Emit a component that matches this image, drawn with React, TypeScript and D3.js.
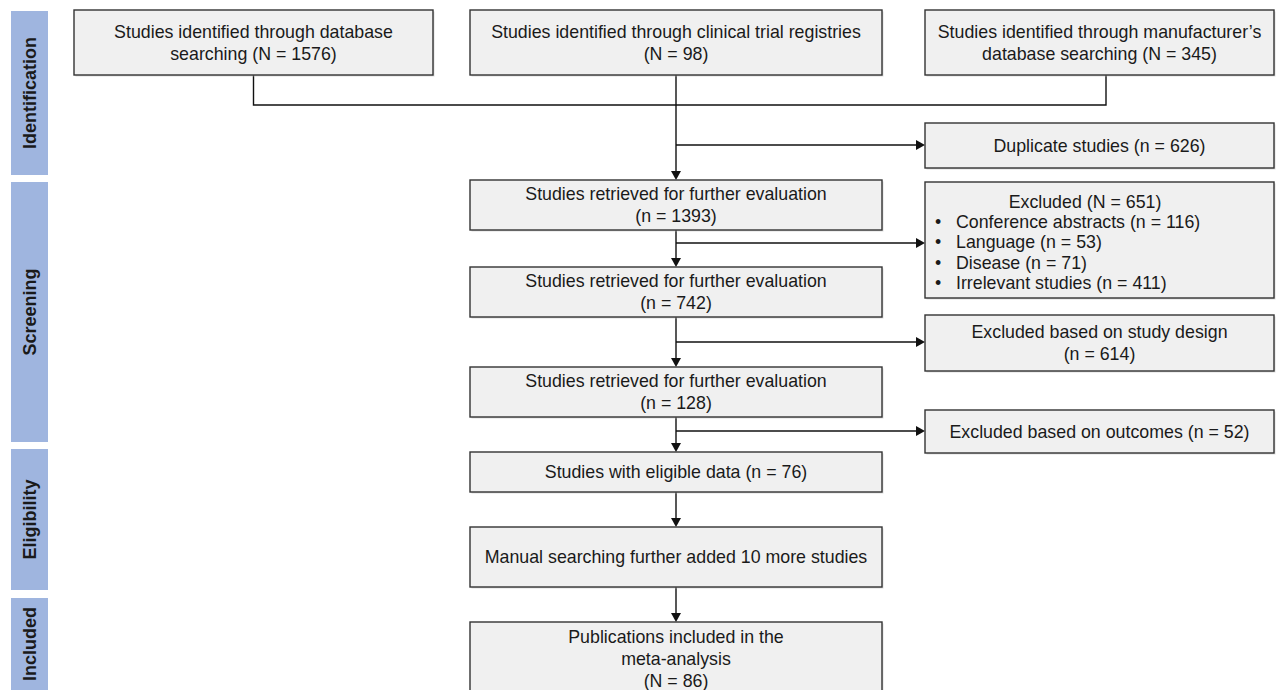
import React from 'react';
import * as d3 from 'd3';

// Phase labels down the left side
const phases = ['Identification', 'Screening', 'Eligibility', 'Included'];
const phaseSpans = [[11, 175], [182, 442], [449, 590], [598, 700]];

// Source boxes (top row)
const sourceTexts = [
  ['Studies identified through database', 'searching (N = 1576)'],
  ['Studies identified through clinical trial registries', '(N = 98)'],
  ['Studies identified through manufacturer\u2019s', 'database searching (N = 345)'],
];

// Main column boxes
const mainTexts = [
  ['Studies retrieved for further evaluation', '(n = 1393)'],
  ['Studies retrieved for further evaluation', '(n = 742)'],
  ['Studies retrieved for further evaluation', '(n = 128)'],
  ['Studies with eligible data (n = 76)'],
  ['Manual searching further added 10 more studies'],
  ['Publications included in the', 'meta-analysis', '(N = 86)'],
];
const mainSpans = [[180, 230], [267, 317], [367, 417], [452, 492], [527, 587], [622, 700]];

// Exclusion boxes (right column)
const sideTexts = [
  ['Duplicate studies (n = 626)'],
  ['Excluded based on study design', '(n = 614)'],
  ['Excluded based on outcomes (n = 52)'],
];
const sideSpans = [[123, 168], [315, 371], [410, 453]];
const sideBranchY = [145, 342, 431];

const excludedTitle = 'Excluded (N = 651)';
const excludedItems = [
  'Conference abstracts (n = 116)',
  'Language (n = 53)',
  'Disease (n = 71)',
  'Irrelevant studies (n = 411)',
];
const excludedSpan = [182, 298];
const excludedBranchY = 243;

const W = 1277;
const H = 690;
const FONT = "'Liberation Sans', Arial, sans-serif";
const FS = 17.8;

const col = d3.scaleOrdinal<string, [number, number]>()
  .domain(['left', 'mid', 'right'])
  .range([[74, 433], [470, 882], [925, 1274]]);

const stroke = '#333';
const fill = '#f0f0f0';

const Box: React.FC<{ x0: number; x1: number; y0: number; y1: number; lines: string[]; lh?: number }> = ({ x0, x1, y0, y1, lines, lh = 22 }) => {
  const cx = (x0 + x1) / 2;
  const cy = (y0 + Math.min(y1, H + 5)) / 2;
  const yLine = d3.scaleLinear().domain([0, lines.length - 1 || 1]).range([cy - (lh * (lines.length - 1)) / 2, cy + (lh * (lines.length - 1)) / 2]);
  return (
    <g>
      <rect x={x0 + 1.5} y={y0 + 1.5} width={x1 - x0} height={y1 - y0} fill="#bbb" opacity={0.5} />
      <rect x={x0} y={y0} width={x1 - x0} height={y1 - y0} fill={fill} stroke={stroke} strokeWidth={1.4} />
      {lines.map((t, i) => (
        <text key={i} x={cx} y={lines.length === 1 ? cy : yLine(i)} textAnchor="middle" dominantBaseline="central" fontSize={FS} fill="#1a1a1a">{t}</text>
      ))}
    </g>
  );
};

const App: React.FC = () => {
  const [lx0, lx1] = col('left');
  const [mx0, mx1] = col('mid');
  const [rx0, rx1] = col('right');
  const midX = (mx0 + mx1) / 2;
  const leftX = (lx0 + lx1) / 2;
  const rightStemX = 1106;
  const joinY = 105;
  const line = d3.line();

  const arrowDown = (x: number, y: number) => `M${x - 5},${y - 9} L${x + 5},${y - 9} L${x},${y} Z`;
  const arrowRight = (x: number, y: number) => `M${x - 9},${y - 5} L${x - 9},${y + 5} L${x},${y} Z`;
  const branches = [sideBranchY[0], excludedBranchY, sideBranchY[1], sideBranchY[2]];

  return (
    <svg width={W} height={H} style={{ position: 'absolute', left: 0, top: 0, background: '#fff' }} fontFamily={FONT}>
      {phases.map((p, i) => {
        const [a, b] = phaseSpans[i];
        const cy = (a + Math.min(b, H)) / 2;
        return (
          <g key={p}>
            <rect x={11} y={a} width={37} height={b - a} fill="#9fb5df" />
            <text x={30} y={cy} transform={`rotate(-90, 30, ${cy})`} textAnchor="middle" dominantBaseline="central" fontSize={18} fontWeight="bold" fill="#1a1a1a">{p}</text>
          </g>
        );
      })}

      {/* connectors */}
      <g stroke="#111" strokeWidth={1.4} fill="none">
        <path d={line([[leftX, 75], [leftX, joinY], [rightStemX, joinY], [rightStemX, 75]]) || ''} />
        <path d={line([[midX, 75], [midX, mainSpans[0][0] - 8]]) || ''} />
        {mainSpans.slice(0, -1).map((s, i) => (
          <path key={i} d={line([[midX, s[1]], [midX, mainSpans[i + 1][0] - 8]]) || ''} />
        ))}
        {branches.map((y, i) => (
          <path key={'b' + i} d={line([[midX, y], [rx0 - 8, y]]) || ''} />
        ))}
      </g>
      <g fill="#111">
        {mainSpans.map((s, i) => <path key={i} d={arrowDown(midX, s[0])} />)}
        {branches.map((y, i) => (
          <path key={'a' + i} d={arrowRight(rx0, y)} />
        ))}
      </g>

      {sourceTexts.map((t, i) => {
        const [x0, x1] = col(['left', 'mid', 'right'][i]);
        return <Box key={'s' + i} x0={x0} x1={x1} y0={10} y1={75} lines={t} />;
      })}
      {mainTexts.map((t, i) => (
        <Box key={'m' + i} x0={mx0} x1={mx1} y0={mainSpans[i][0]} y1={mainSpans[i][1]} lines={t} />
      ))}
      {sideTexts.map((t, i) => (
        <Box key={'r' + i} x0={rx0} x1={rx1} y0={sideSpans[i][0]} y1={sideSpans[i][1]} lines={t} />
      ))}

      <g>
        <rect x={rx0 + 1.5} y={excludedSpan[0] + 1.5} width={rx1 - rx0} height={excludedSpan[1] - excludedSpan[0]} fill="#bbb" opacity={0.5} />
        <rect x={rx0} y={excludedSpan[0]} width={rx1 - rx0} height={excludedSpan[1] - excludedSpan[0]} fill={fill} stroke={stroke} strokeWidth={1.4} />
        <text x={1085} y={202} textAnchor="middle" dominantBaseline="central" fontSize={FS} fill="#1a1a1a">{excludedTitle}</text>
        {excludedItems.map((t, i) => (
          <g key={t}>
            <text x={938} y={222 + i * 20.4} textAnchor="middle" dominantBaseline="central" fontSize={FS} fill="#1a1a1a">{'\u2022'}</text>
            <text x={956} y={222 + i * 20.4} dominantBaseline="central" fontSize={FS} fill="#1a1a1a">{t}</text>
          </g>
        ))}
      </g>
    </svg>
  );
};

export default App;
